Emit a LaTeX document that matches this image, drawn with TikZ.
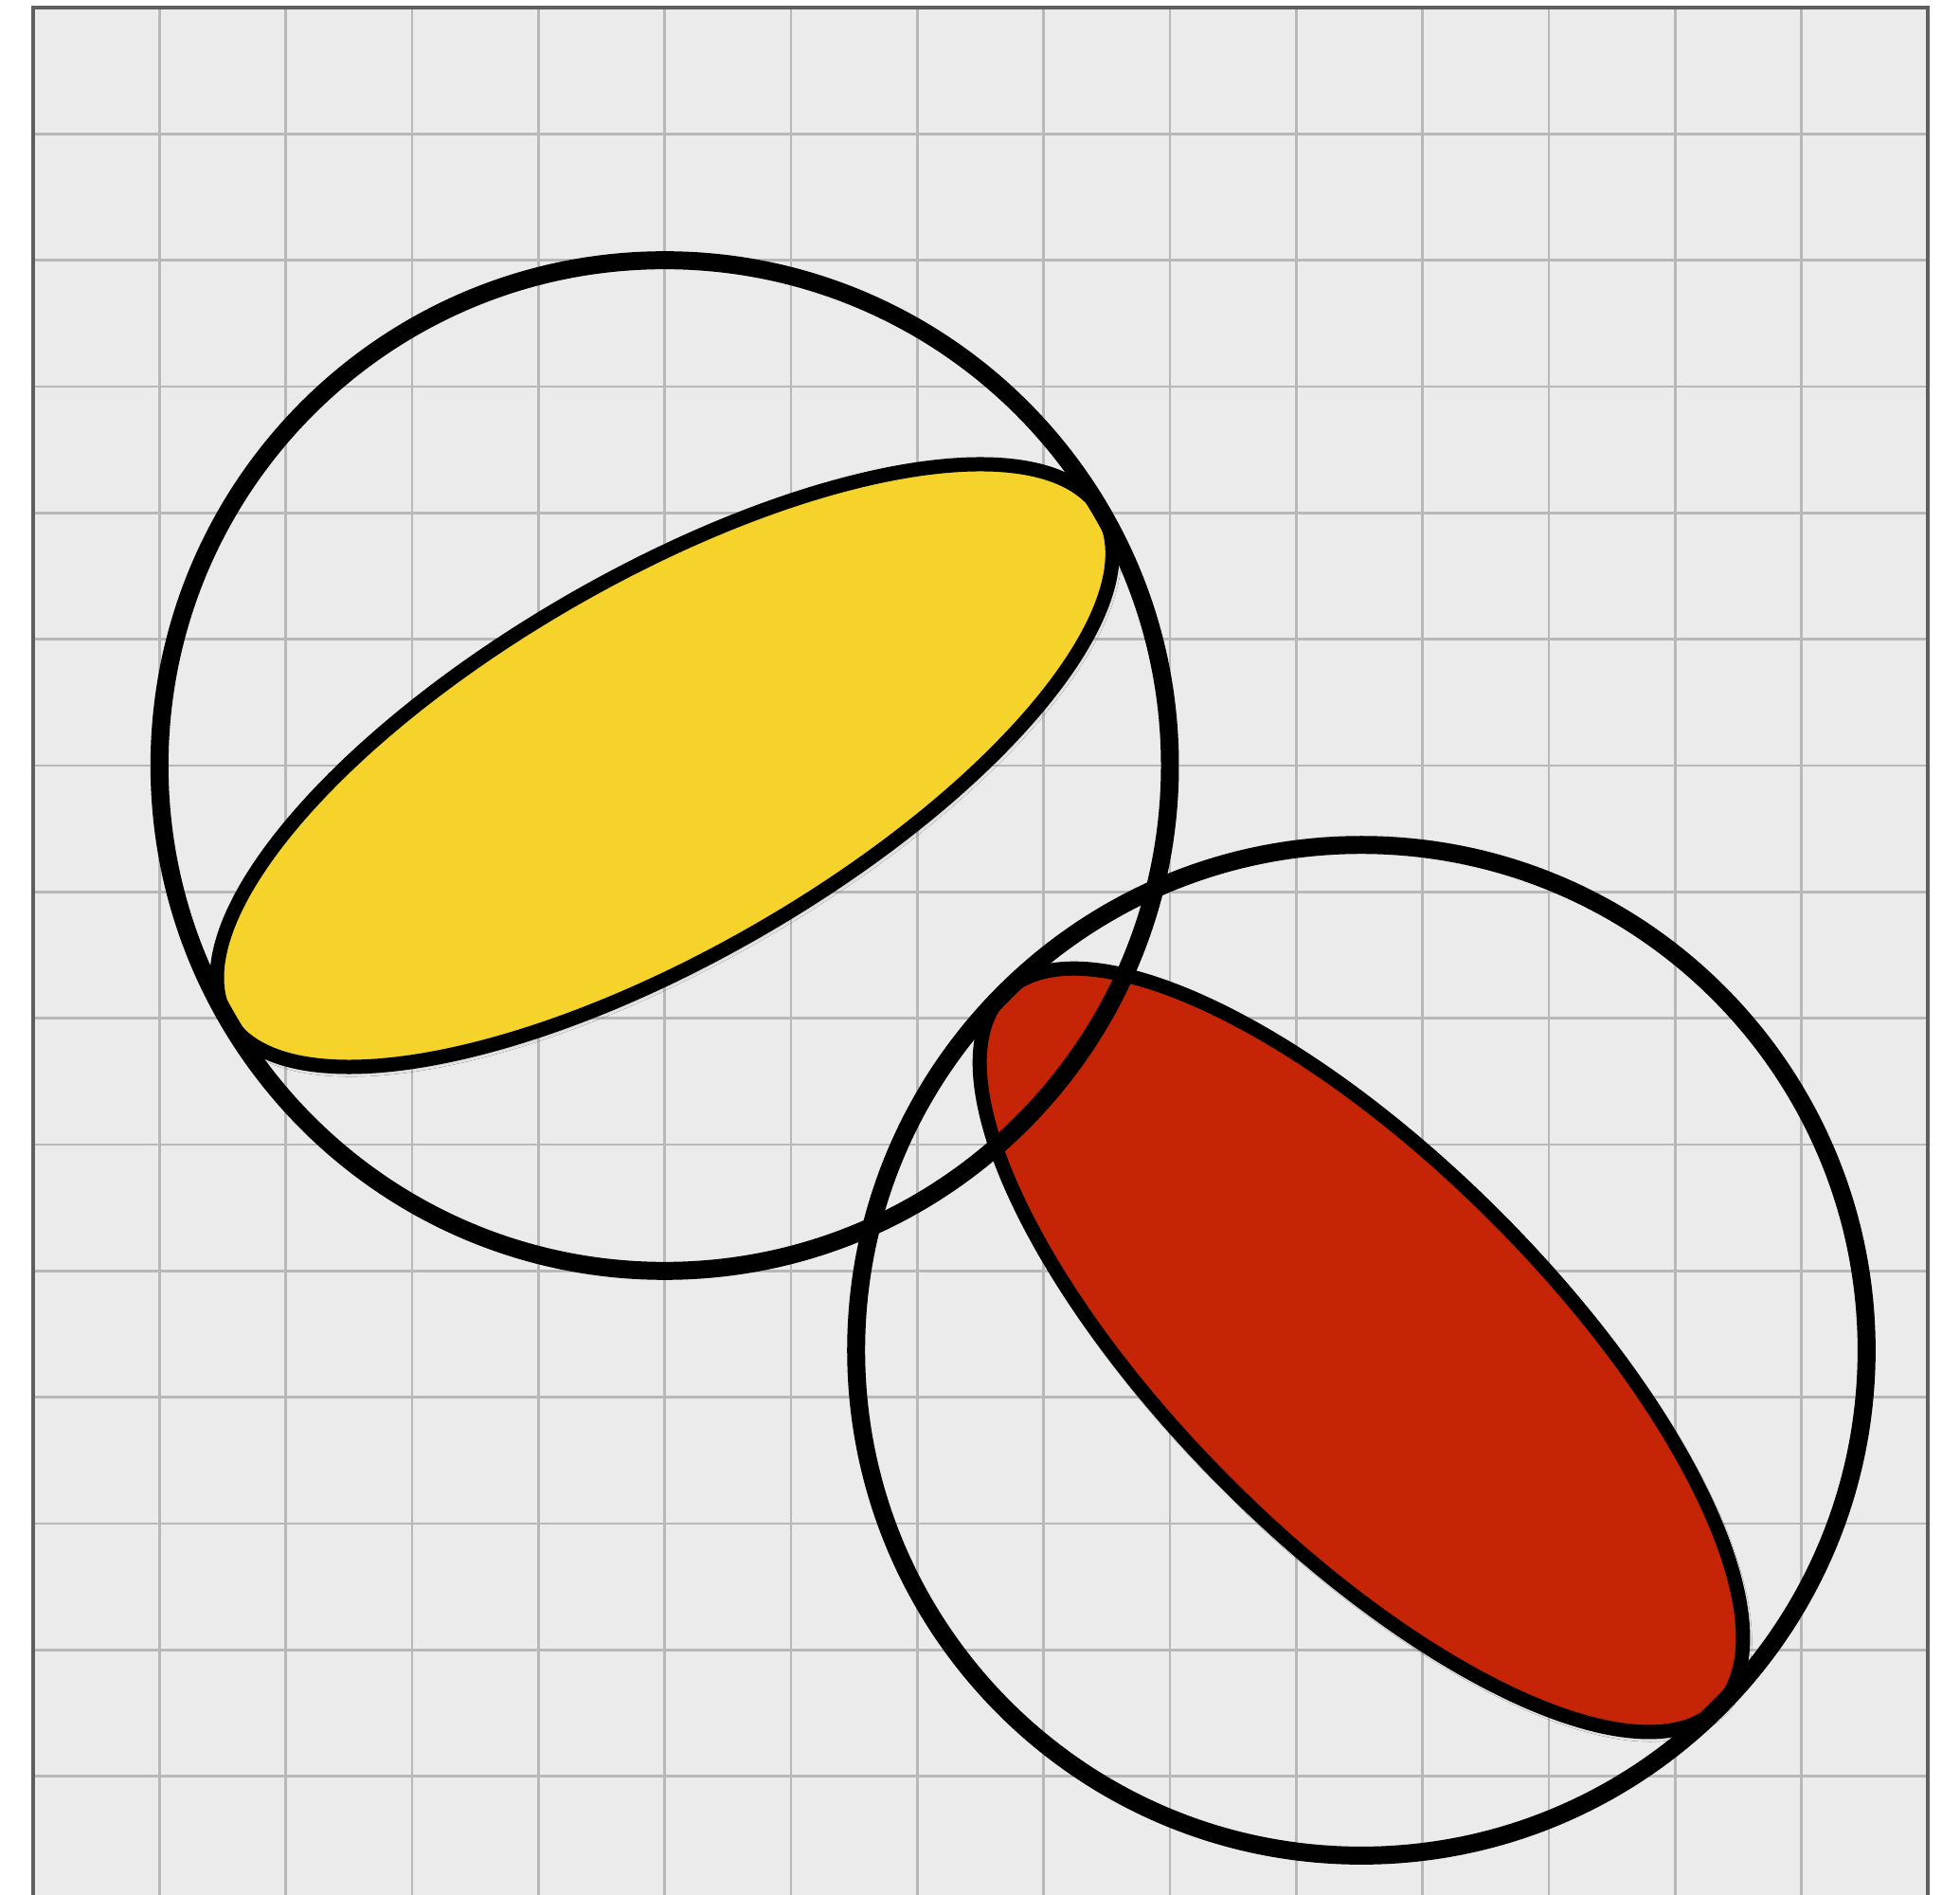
\documentclass[tikz,border=0pt]{standalone}
\usetikzlibrary{shadows.blur}
\definecolor{bgc}{HTML}{EBEBEB}
\definecolor{gridc}{HTML}{B8B8B8}
\definecolor{framec}{HTML}{5F5F5F}
\definecolor{yelc}{HTML}{F5D32B}
\definecolor{redc}{HTML}{C52406}
\tikzset{
  ringline/.style={draw=black, line width=4.05pt},
  ovalline/.style={draw=black, line width=3.2pt,
    blur shadow={shadow xshift=0.4pt, shadow yshift=-0.6pt, shadow blur radius=1.6pt, shadow opacity=45}},
  gridline/.style={draw=gridc, line width=0.6pt},
  framestyle/.style={draw=framec, line width=0.7pt}
}
\begin{document}
\begin{tikzpicture}
\useasboundingbox (-0.2625,0.06) rectangle (15.255,15.06);
\clip (-0.2625,0.06) rectangle (15.255,15.06);
\fill[bgc] (0,0) rectangle (15,15);
\draw[gridline] (0,0) grid (15,15);
\draw[framestyle] (0,0) rectangle (15,15);
\coordinate (c1) at (5,9);
\path (c1) ++(-40:7.2) coordinate (c2);
\begin{scope}[shift={(c1)}, rotate=30]
  \path[ovalline, fill=yelc] (0,0) ellipse [x radius=4, y radius=1.5];
\end{scope}
\begin{scope}[shift={(c2)}, rotate=-45]
  \path[ovalline, fill=redc] (0,0) ellipse [x radius=4, y radius=1.5];
\end{scope}
\path[ringline] (c1) circle [radius=4];
\path[ringline] (c2) circle [radius=4];
\end{tikzpicture}
\end{document}
